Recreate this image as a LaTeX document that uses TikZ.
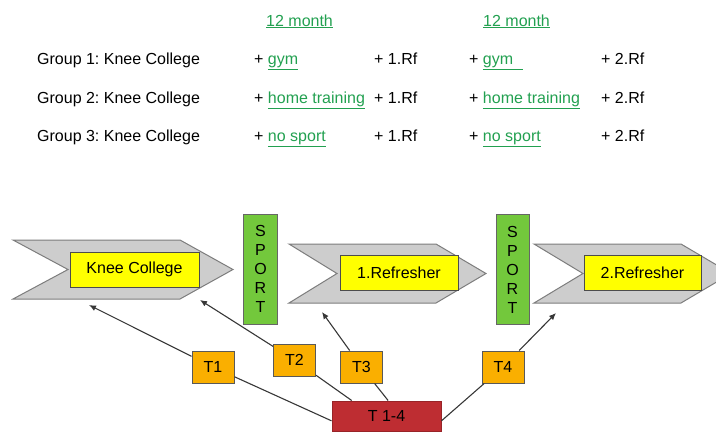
\documentclass[tikz,border=0pt]{standalone}
\usepackage{fontspec}
\setmainfont{Liberation Sans}
\usepackage{tikz}
\usetikzlibrary{arrows.meta}
\frenchspacing
\definecolor{mgreen}{RGB}{34,160,80}
\definecolor{chevfill}{RGB}{205,205,205}
\definecolor{chevline}{RGB}{125,125,125}
\definecolor{kcyellow}{RGB}{255,255,0}
\definecolor{sportgreen}{RGB}{115,200,60}
\definecolor{torange}{RGB}{250,175,0}
\definecolor{tred}{RGB}{190,45,50}
\definecolor{tline}{RGB}{55,55,55}

\begin{document}
\begin{tikzpicture}[x=1pt, y=-1pt, >={Latex[length=7pt,width=6pt]},
  every node/.style={font=\fontsize{16}{19}\selectfont},
  txt/.style={anchor=base west, inner sep=0pt},
  chev/.style={draw=chevline, fill=chevfill, line width=1pt},
  ybox/.style={draw=black!70, fill=kcyellow, line width=1pt, inner sep=0pt, minimum height=35pt},
  sbox/.style={draw=black!60, fill=sportgreen, line width=1pt, inner sep=0pt, align=center,
    minimum width=34pt, minimum height=110pt},
  tbox/.style={draw=black!65, fill=torange, line width=1pt, inner sep=0pt,
    minimum width=42pt, minimum height=32pt},
  conn/.style={draw=tline, line width=1.1pt}]
  \useasboundingbox (0,0) rectangle (716,432);
  \clip (0,0) rectangle (716,432);

  % plan of the groups
  \node[txt] (m1) at (266,26) {\textcolor{mgreen}{\underline{12 month}}};
  \node[txt] (m2) at (483,26) {\textcolor{mgreen}{\underline{12 month}}};

  \node[txt] (g1) at (37,64) {Group 1: Knee College};
  \node[txt] (g1a) at (254,64) {+ \textcolor{mgreen}{\underline{gym}}};
  \node[txt] (g1r) at (374,64) {+ 1.Rf};
  \node[txt] (g1b) at (469,64) {+ \textcolor{mgreen}{\underline{gym\hspace{10pt}}}};
  \node[txt] (g1s) at (601,64) {+ 2.Rf};

  \node[txt] (g2) at (37,103) {Group 2: Knee College};
  \node[txt] (g2a) at (254,103) {+ \textcolor{mgreen}{\underline{home training}}};
  \node[txt] (g2r) at (374,103) {+ 1.Rf};
  \node[txt] (g2b) at (469,103) {+ \textcolor{mgreen}{\underline{home training}}};
  \node[txt] (g2s) at (601,103) {+ 2.Rf};

  \node[txt] (g3) at (37,141) {Group 3: Knee College};
  \node[txt] (g3a) at (254,141) {+ \textcolor{mgreen}{\underline{no sport}}};
  \node[txt] (g3r) at (374,141) {+ 1.Rf};
  \node[txt] (g3b) at (469,141) {+ \textcolor{mgreen}{\underline{no sport}}};
  \node[txt] (g3s) at (601,141) {+ 2.Rf};

  % time line
  \draw[chev] (13,240) -- (180,240) -- (233,269.5) -- (180,299) -- (13,299) -- (68,269.5) -- cycle;
  \draw[chev] (289,244) -- (436,244) -- (486,273.5) -- (436,303) -- (289,303) -- (337,273.5) -- cycle;
  \draw[chev] (534,244) -- (681,244) -- (731,273.5) -- (681,303) -- (534,303) -- (583,273.5) -- cycle;

  \node[ybox, minimum width=129pt] (kc) at (134.5,269.5) {Knee College};
  \node[ybox, minimum width=118pt] (rf1) at (399,273) {1.Refresher};
  \node[ybox, minimum width=117pt] (rf2) at (642.5,273) {2.Refresher};

  \node[sbox] (sp1) at (260.5,269) {S\\P\\O\\R\\T};
  \node[sbox, minimum width=33pt] (sp2) at (512.5,269.5) {S\\P\\O\\R\\T};

  % tests
  \node[tbox] (t1) at (213,367) {T1};
  \node[tbox] (t2) at (294.5,360) {T2};
  \node[tbox] (t3) at (361.5,367) {T3};
  \node[tbox] (t4) at (503,367) {T4};
  \node[draw=tred!80!black, fill=tred, line width=1pt, minimum width=109pt, minimum height=30pt,
    inner sep=0pt] (tall) at (386.5,416) {T 1-4};

  \coordinate (a1) at (89,305);
  \coordinate (a2) at (200,300);
  \coordinate (a3) at (322,312);
  \coordinate (a4) at (556,313);

  \draw[conn] (tall.185) -- (t1);
  \draw[conn] (tall.156) -- (t2);
  \draw[conn] (tall.84) -- (t3);
  \draw[conn] (tall.-5) -- (t4);
  \draw[conn, ->] (t1) -- (a1);
  \draw[conn, ->] (t2) -- (a2);
  \draw[conn, ->] (t3) -- (a3);
  \draw[conn, ->] (t4) -- (a4);
\end{tikzpicture}
\end{document}
